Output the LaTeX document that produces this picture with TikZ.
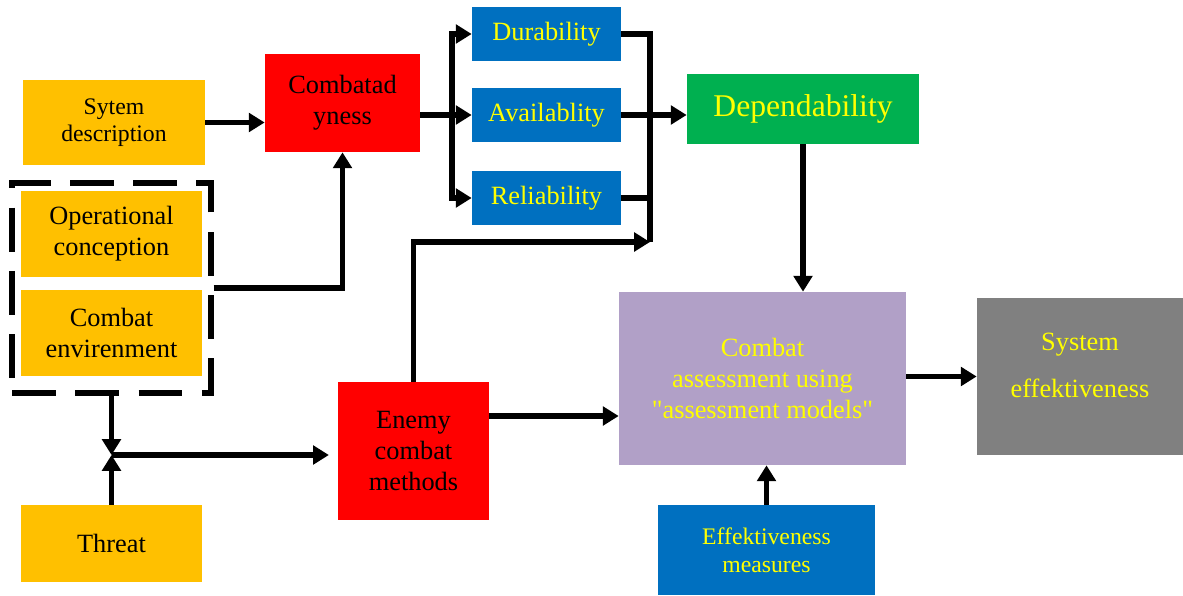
\documentclass[tikz,border=0pt]{standalone}
\usepackage{fontspec}
\setmainfont{Liberation Serif}[Ligatures=TeXOff]
\usetikzlibrary{arrows.meta}

\definecolor{boxorange}{HTML}{FFC000}
\definecolor{boxred}{HTML}{FF0000}
\definecolor{boxblue}{HTML}{0070C0}
\definecolor{boxgreen}{HTML}{00B050}
\definecolor{boxpurple}{HTML}{B1A0C7}
\definecolor{boxgray}{HTML}{808080}
\definecolor{txtyellow}{HTML}{FFFF00}

\begin{document}
\begin{tikzpicture}[
    x=0.02cm, y=-0.02cm,
    every node/.style={font=\fontsize{15}{17.6}\selectfont, align=center, inner sep=0pt},
    box/.style={rectangle, fill=#1},
    conn/.style={line width=2.9pt, -{Triangle[length=9pt,width=10.5pt]}},
    plain/.style={line width=2.9pt}
]
\useasboundingbox (0,0) rectangle (1183,595);

% Inputs
\node[box=boxorange, minimum width=3.64cm, minimum height=1.7cm, font=\fontsize{13.5}{15}\selectfont] (sysdesc) at (114,122.5) {Sytem\\description};
\node[box=boxorange, minimum width=3.62cm, minimum height=1.72cm] (opcon) at (111.5,234) {Operational\\conception};
\node[box=boxorange, minimum width=3.62cm, minimum height=1.72cm] (combenv) at (111.5,333) {Combat\\envirenment};
\node[draw, line width=2.9pt, dash pattern=on 25pt off 11pt, minimum width=3.98cm, minimum height=4.2cm] (envgroup) at (111.5,288) {};
\node[box=boxorange, minimum width=3.62cm, minimum height=1.54cm] (threat) at (111.5,543.5) {Threat};

% Combat readiness
\node[box=boxred, minimum width=3.1cm, minimum height=1.96cm] (combat) at (342.5,103) {Combatad\\yness};

% Properties
\node[box=boxblue, text=txtyellow, minimum width=2.98cm, minimum height=1.08cm] (durab) at (546.5,34) {Durability};
\node[box=boxblue, text=txtyellow, minimum width=2.98cm, minimum height=1.08cm] (avail) at (546.5,115) {Availablity};
\node[box=boxblue, text=txtyellow, minimum width=2.98cm, minimum height=1.08cm] (reliab) at (546.5,198) {Reliability};
\node[box=boxgreen, text=txtyellow, minimum width=4.64cm, minimum height=1.4cm, font=\fontsize{18}{21}\selectfont] (depend) at (803,109) {Dependability};

% Enemy
\node[box=boxred, minimum width=3.02cm, minimum height=2.76cm] (enemy) at (413.5,451) {Enemy\\combat\\methods};

% Assessment
\node[box=boxpurple, text=txtyellow, minimum width=5.74cm, minimum height=3.46cm] (assess) at (762.5,378.5) {Combat\\assessment using\\"assessment models"};
\node[box=boxgray, text=txtyellow, minimum width=4.12cm, minimum height=3.14cm] (syseff) at (1080,376.5) {System\\[9pt]effektiveness\\[-5pt]\mbox{}};
\node[box=boxblue, text=txtyellow, minimum width=4.34cm, minimum height=1.8cm, font=\fontsize{13.5}{16}\selectfont] (effmeas) at (766.5,550) {Effektiveness\\measures};

% Helper points
\coordinate (split) at (452,115);
\coordinate (merge) at (650,242);
\coordinate (junc) at (envgroup.south |- 0,455);

% Arrows
\draw[conn] (sysdesc.east) -- (sysdesc.east -| combat.west);
\draw[conn] (envgroup.east) -| (combat.south);
\draw[conn] (combat.east |- avail.west) -- (avail.west);
\draw[conn] (split) |- (durab.west);
\draw[conn] (split) |- (reliab.west);
\draw[plain] (durab.east) -| (merge);
\draw[plain] (reliab.east) -| (merge);
\draw[conn] (avail.east) -- (avail.east -| depend.west);
\draw[conn] (enemy.north) |- (merge);
\draw[conn] (depend.south) -- (depend.south |- assess.north);
\draw[conn] (envgroup.south) -- (junc);
\draw[conn] (threat.north) -- (junc);
\draw[conn, shorten >=5pt] (junc) -- (junc -| enemy.west);
\draw[conn] ([yshift=0.7cm]enemy.east) -- ([yshift=0.7cm]enemy.east -| assess.west);
\draw[conn] (syseff.west -| assess.east) -- (syseff.west);
\draw[conn] (effmeas.north) -- (effmeas.north |- assess.south);

\end{tikzpicture}
\end{document}
